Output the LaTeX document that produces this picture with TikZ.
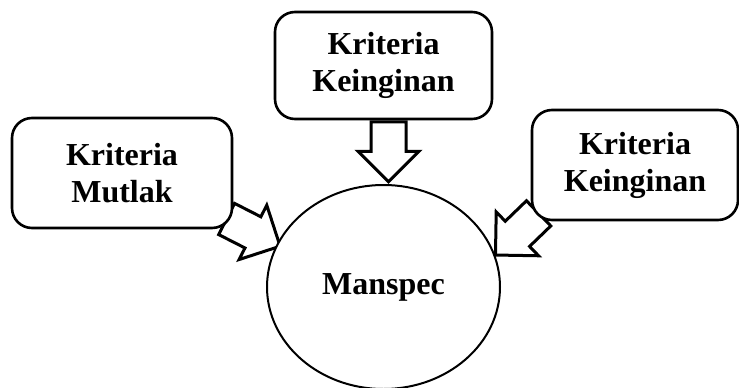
\documentclass[tikz,border=0pt]{standalone}
\usepackage{fontspec}
\setmainfont{Liberation Serif}
\usetikzlibrary{shapes.arrows, shapes.geometric, backgrounds}

\begin{document}
\begin{tikzpicture}[
    x=1pt, y=-1pt,
    kriteria/.style={
        draw,
        line width=2.6pt,
        rounded corners=20pt,
        fill=white,
        align=center,
        inner sep=0pt,
        font=\fontsize{32}{37}\selectfont\bfseries,
    },
    spec/.style={
        ellipse,
        draw,
        line width=2pt,
        fill=white,
        minimum width=233pt,
        minimum height=204pt,
        font=\fontsize{32}{37}\selectfont\bfseries,
    },
    blockarrow/.style={
        single arrow,
        draw,
        line width=3pt,
        fill=white,
        inner xsep=0pt,
        inner ysep=16pt,
        minimum height=60pt,
        single arrow head extend=13pt,
        single arrow head indent=0pt,
        anchor=tail,
    }
]
    \clip (0,0) rectangle (739,388);

    % Criteria
    \node[kriteria, minimum width=220pt, minimum height=110pt] (mutlak) at (122,173) {Kriteria\\Mutlak};
    \node[kriteria, minimum width=217pt, minimum height=107pt] (keinginanA) at (383.5,65.5) {Kriteria\\Keinginan};
    \node[kriteria, minimum width=206pt, minimum height=110pt] (keinginanB) at (635,165) {Kriteria\\Keinginan};

    % Manspec
    \node[spec] (manspec) at (383.5,287) {Manspec};

    % Arrows
    \begin{scope}[on background layer]
        \node[blockarrow, rotate=-90] (arrowTop) at ([xshift=5pt]keinginanA.south) {};
        \node[blockarrow, rotate=-27] (arrowLeft) at ([shift={(-8,-11)}]mutlak.south east) {};
        \node[blockarrow, rotate=-136] (arrowRight) at ([shift={(9,-9)}]keinginanB.south west) {};
    \end{scope}
\end{tikzpicture}
\end{document}
